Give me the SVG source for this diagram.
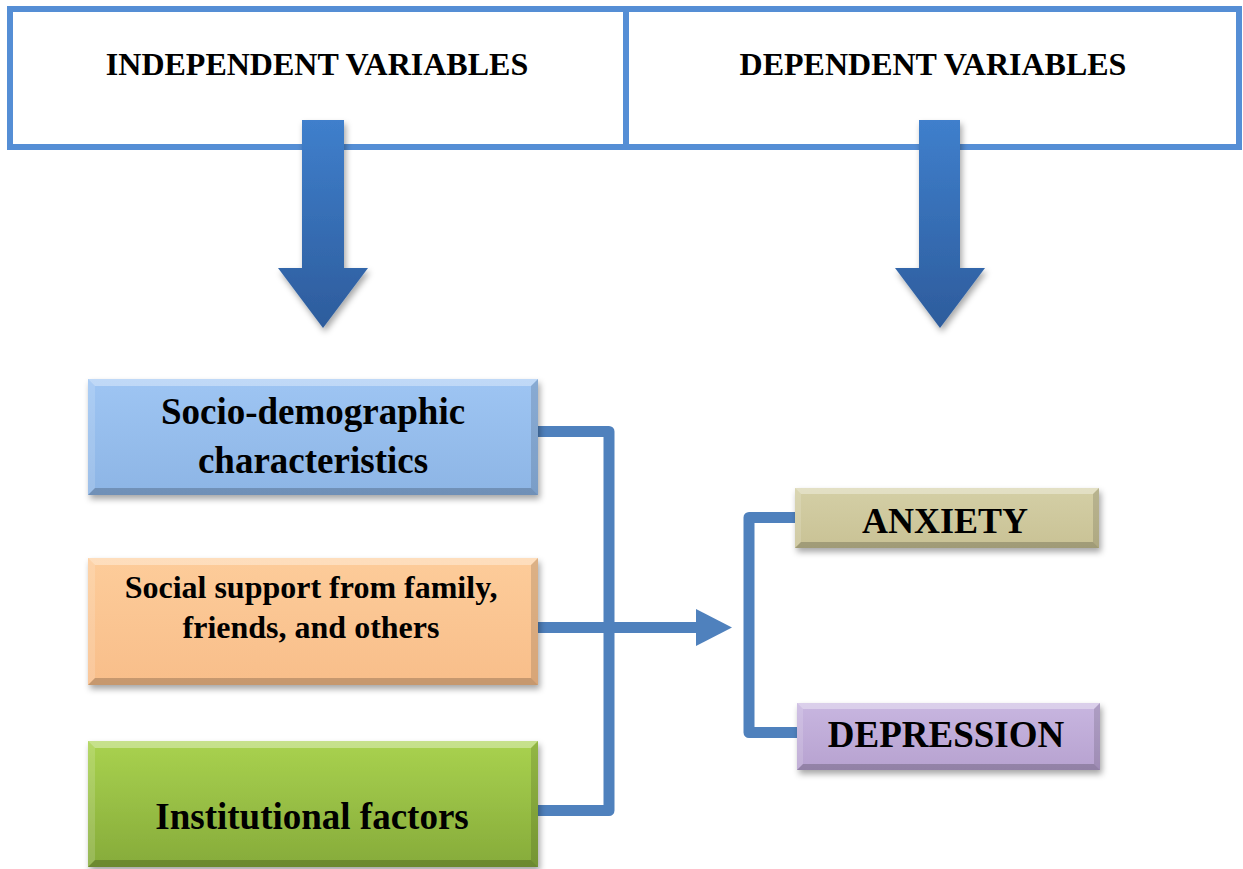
<svg xmlns="http://www.w3.org/2000/svg" width="1243" height="869" viewBox="0 0 1243 869">
  <defs>
    <style>
      .frame { fill: #ffffff; stroke: #558ED5; stroke-width: 6; }
      .div { stroke: #558ED5; stroke-width: 6; }
      .hdr { font-family: "Liberation Serif", "Times New Roman", serif; font-weight: bold; font-size: 32px; fill: #000; text-anchor: middle; }
      .lbl { font-family: "Liberation Serif", "Times New Roman", serif; font-weight: bold; fill: #000; text-anchor: middle; }
      .conn { fill: none; stroke: #4F81BD; stroke-width: 11; stroke-linejoin: round; }
      .head { fill: #4F81BD; }
      .bt { fill: #ffffff; fill-opacity: 0.35; }
      .bl { fill: #ffffff; fill-opacity: 0.15; }
      .br { fill: #000000; fill-opacity: 0.13; }
      .bb { fill: #000000; fill-opacity: 0.2; }
    </style>
    <linearGradient id="gArrow" x1="0" y1="0" x2="0" y2="1">
      <stop offset="0" stop-color="#3F7FCC"/>
      <stop offset="1" stop-color="#2D5C9C"/>
    </linearGradient>
    <linearGradient id="gBlue" x1="0" y1="0" x2="0" y2="1">
      <stop offset="0" stop-color="#9EC5F3"/>
      <stop offset="1" stop-color="#8DB5E5"/>
    </linearGradient>
    <linearGradient id="gOrange" x1="0" y1="0" x2="0" y2="1">
      <stop offset="0" stop-color="#FDCC9A"/>
      <stop offset="1" stop-color="#F8BE8A"/>
    </linearGradient>
    <linearGradient id="gGreen" x1="0" y1="0" x2="0" y2="1">
      <stop offset="0" stop-color="#A9D24F"/>
      <stop offset="1" stop-color="#86AB3A"/>
    </linearGradient>
    <linearGradient id="gTan" x1="0" y1="0" x2="0" y2="1">
      <stop offset="0" stop-color="#D4CFA6"/>
      <stop offset="1" stop-color="#C9C295"/>
    </linearGradient>
    <linearGradient id="gLav" x1="0" y1="0" x2="0" y2="1">
      <stop offset="0" stop-color="#C8B6E0"/>
      <stop offset="1" stop-color="#B7A2D0"/>
    </linearGradient>
    <filter id="shadow" x="-10%" y="-10%" width="125%" height="135%">
      <feDropShadow dx="2" dy="4" stdDeviation="3" flood-color="#000" flood-opacity="0.35"/>
    </filter>
  </defs>

  <rect width="1243" height="869" fill="#ffffff"/>

  <g id="header">
    <rect class="frame" x="10" y="9" width="1229" height="138"/>
    <line class="div" x1="626" y1="9" x2="626" y2="147"/>
    <text class="hdr" x="317" y="75">INDEPENDENT VARIABLES</text>
    <text class="hdr" x="933" y="75">DEPENDENT VARIABLES</text>
  </g>

  <g id="big-arrows" filter="url(#shadow)">
    <polygon fill="url(#gArrow)" points="302,120 344,120 344,268 368,268 323,328 278,268 302,268"/>
    <polygon fill="url(#gArrow)" points="919,120 960,120 960,268 985,268 940,328 895,268 919,268"/>
  </g>

  <g id="connectors">
    <path class="conn" d="M 530 431.5 H 609 V 810.5 H 530"/>
    <line class="conn" x1="530" y1="627.5" x2="698" y2="627.5"/>
    <polygon class="head" points="696,609 732,627.5 696,646"/>
    <path class="conn" d="M 805 517.5 H 749 V 732.5 H 805"/>
  </g>

  <g id="node-socio">
    <rect x="88" y="379" width="450" height="116" fill="url(#gBlue)" filter="url(#shadow)"/>
    <polygon class="bt" points="88,379 538,379 531,386 95,386"/>
    <polygon class="bl" points="88,379 95,386 95,488 88,495"/>
    <polygon class="br" points="538,379 538,495 531,488 531,386"/>
    <polygon class="bb" points="88,495 538,495 531,488 95,488"/>
    <text class="lbl" font-size="37" x="313" y="424">Socio-demographic</text>
    <text class="lbl" font-size="37" x="313" y="473">characteristics</text>
  </g>

  <g id="node-social">
    <rect x="88" y="558" width="450" height="127" fill="url(#gOrange)" filter="url(#shadow)"/>
    <polygon class="bt" points="88,558 538,558 531,565 95,565"/>
    <polygon class="bl" points="88,558 95,565 95,678 88,685"/>
    <polygon class="br" points="538,558 538,685 531,678 531,565"/>
    <polygon class="bb" points="88,685 538,685 531,678 95,678"/>
    <text class="lbl" font-size="32" x="311" y="598">Social support from family,</text>
    <text class="lbl" font-size="32" x="311" y="638">friends, and others</text>
  </g>

  <g id="node-institutional">
    <rect x="88" y="741" width="450" height="126" fill="url(#gGreen)" filter="url(#shadow)"/>
    <polygon class="bt" points="88,741 538,741 531,748 95,748"/>
    <polygon class="bl" points="88,741 95,748 95,860 88,867"/>
    <polygon class="br" points="538,741 538,867 531,860 531,748"/>
    <polygon class="bb" points="88,867 538,867 531,860 95,860"/>
    <text class="lbl" font-size="37" x="312" y="829">Institutional factors</text>
  </g>

  <g id="node-anxiety">
    <rect x="795" y="488" width="304" height="60" fill="url(#gTan)" filter="url(#shadow)"/>
    <polygon class="bt" points="795,488 1099,488 1093,494 801,494"/>
    <polygon class="bl" points="795,488 801,494 801,542 795,548"/>
    <polygon class="br" points="1099,488 1099,548 1093,542 1093,494"/>
    <polygon class="bb" points="795,548 1099,548 1093,542 801,542"/>
    <text class="lbl" font-size="36" x="945" y="533">ANXIETY</text>
  </g>

  <g id="node-depression">
    <rect x="797" y="703" width="303" height="67" fill="url(#gLav)" filter="url(#shadow)"/>
    <polygon class="bt" points="797,703 1100,703 1094,709 803,709"/>
    <polygon class="bl" points="797,703 803,709 803,764 797,770"/>
    <polygon class="br" points="1100,703 1100,770 1094,764 1094,709"/>
    <polygon class="bb" points="797,770 1100,770 1094,764 803,764"/>
    <text class="lbl" font-size="37" x="946" y="747">DEPRESSION</text>
  </g>
</svg>
